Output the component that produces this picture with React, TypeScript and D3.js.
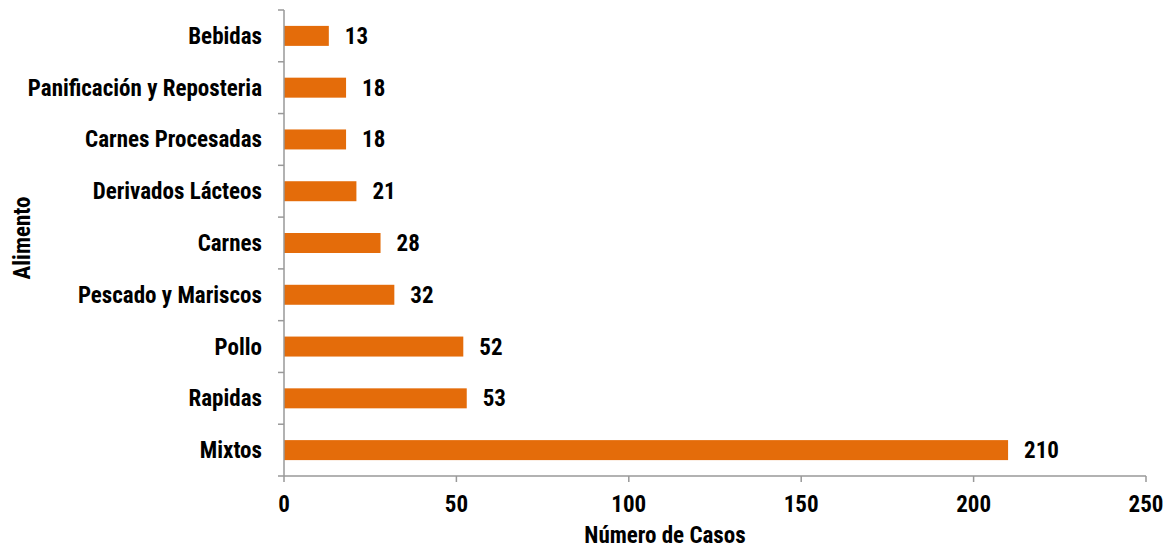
import React from "react";
import * as d3 from "d3";

const categories = [
  "Bebidas",
  "Panificación y Reposteria",
  "Carnes Procesadas",
  "Derivados Lácteos",
  "Carnes",
  "Pescado y Mariscos",
  "Pollo",
  "Rapidas",
  "Mixtos",
];
const values = [13, 18, 18, 21, 28, 32, 52, 53, 210];
const xTicks = [0, 50, 100, 150, 200, 250];

const W = 1165;
const H = 550;
const left = 284;
const right = 1146;
const top = 10;
const bottom = 476;
const FS = 23;
const FONT = "'Liberation Sans Narrow', 'Arial Narrow', 'Roboto Condensed', 'Liberation Sans', Arial, sans-serif";
const AXIS = "#999999";
const BAR = "#E46C0A";

export default function App() {
  const x = d3.scaleLinear().domain([0, 250]).range([left, right]);
  const y = d3.scaleBand<string>().domain(categories).range([top, bottom]).paddingInner(0.614).paddingOuter(0.307);
  const bandEdges = d3.range(categories.length + 1).map((i) => top + (i * (bottom - top)) / categories.length);
  return (
    <svg width={W} height={H} style={{ position: "absolute", left: 0, top: 0 }} fontFamily={FONT} fontWeight="bold">
      {categories.map((c, i) => (
        <g key={c}>
          <rect x={x(0)} y={y(c)} width={x(values[i]) - x(0)} height={y.bandwidth()} fill={BAR} />
          <text x={x(values[i]) + 16} y={(y(c) as number) + y.bandwidth() / 2} dy="0.35em" fontSize={FS} fill="#000">
            {values[i]}
          </text>
          <text x={left - 22} y={(y(c) as number) + y.bandwidth() / 2} dy="0.35em" fontSize={FS} textAnchor="end" fill="#000">
            {c}
          </text>
        </g>
      ))}
      <line x1={left} x2={left} y1={top} y2={bottom} stroke={AXIS} strokeWidth={1.5} />
      {bandEdges.map((e, i) => (
        <line key={i} x1={left - 6} x2={left} y1={e} y2={e} stroke={AXIS} strokeWidth={1.5} />
      ))}
      <line x1={left} x2={right} y1={bottom} y2={bottom} stroke={AXIS} strokeWidth={1.5} />
      {xTicks.map((t) => (
        <g key={t}>
          <line x1={x(t)} x2={x(t)} y1={bottom} y2={bottom + 6} stroke={AXIS} strokeWidth={1.5} />
          <text x={x(t)} y={512} textAnchor="middle" fontSize={FS} fill="#000">
            {t}
          </text>
        </g>
      ))}
      <text x={665} y={543} textAnchor="middle" fontSize={FS} fill="#000">
        Número de Casos
      </text>
      <text transform={`translate(30,238) rotate(-90)`} textAnchor="middle" fontSize={FS} fill="#000">
        Alimento
      </text>
    </svg>
  );
}
